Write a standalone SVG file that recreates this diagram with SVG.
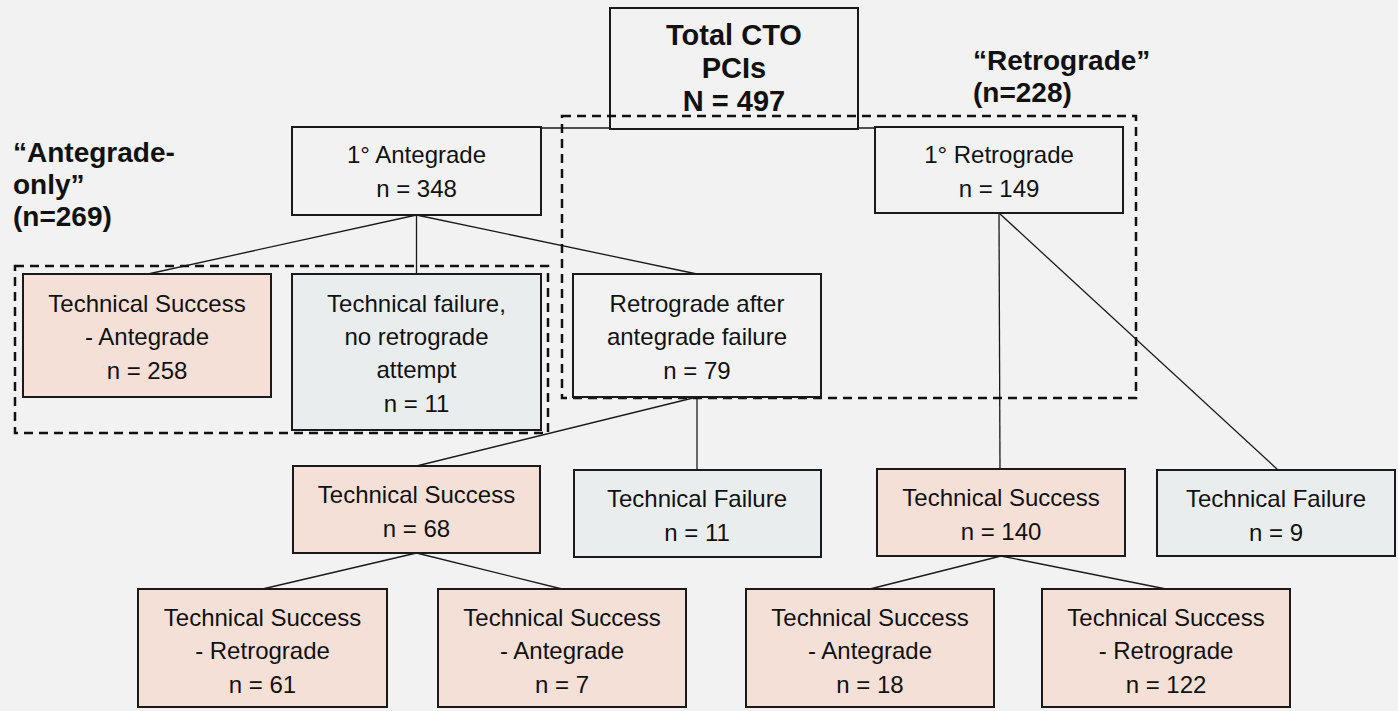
<svg xmlns="http://www.w3.org/2000/svg" width="1398" height="711" viewBox="0 0 1398 711">
<style>
  .bg { fill: #f2f2f2; }
  .succ { fill: #f4e0d6; stroke: #1a1a1a; stroke-width: 2; }
  .fail { fill: #eaedee; stroke: #1a1a1a; stroke-width: 2; }
  .plain { fill: #f2f2f2; stroke: #1a1a1a; stroke-width: 2; }
  .conn line { stroke: #1a1a1a; stroke-width: 1.3; }
  .grp { fill: none; stroke: #111; stroke-width: 2.5; stroke-dasharray: 9 6; }
  text { font-family: "Liberation Sans", Arial, sans-serif; fill: #111; }
  .t { font-size: 24px; text-anchor: middle; }
  .b { font-size: 29px; font-weight: bold; text-anchor: middle; }
  .lbl { font-size: 28px; font-weight: bold; }
</style>
<rect class="bg" x="0" y="0" width="1398" height="711"/>

<g id="connectors" class="conn">
  <line x1="541" y1="128" x2="875" y2="128"/>
  <line x1="416.5" y1="215" x2="148" y2="274"/>
  <line x1="416.5" y1="215" x2="416.5" y2="274"/>
  <line x1="416.5" y1="215" x2="697" y2="274"/>
  <line x1="697" y1="397" x2="416.5" y2="466"/>
  <line x1="697" y1="397" x2="697" y2="470"/>
  <line x1="999" y1="213" x2="1000" y2="469"/>
  <line x1="999" y1="213" x2="1278" y2="470"/>
  <line x1="416.5" y1="553" x2="262.5" y2="589"/>
  <line x1="416.5" y1="553" x2="562" y2="589"/>
  <line x1="1001" y1="556" x2="870" y2="589"/>
  <line x1="1001" y1="556" x2="1166" y2="589"/>
</g>

<g id="total">
  <rect class="plain" x="610" y="8" width="248" height="121"/>
  <text class="b" x="734" y="45">Total CTO</text>
  <text class="b" x="734" y="78">PCIs</text>
  <text class="b" x="734" y="111">N = 497</text>
</g>

<g id="groups">
  <rect id="retro-group" class="grp" x="562" y="116" width="574" height="282"/>
  <rect id="ante-group" class="grp" x="15" y="266" width="533" height="167"/>
</g>

<g id="label-retro">
  <text class="lbl" x="973" y="70">“Retrograde”</text>
  <text class="lbl" x="973" y="102">(n=228)</text>
</g>
<g id="label-ante">
  <text class="lbl" x="13" y="162">“Antegrade-</text>
  <text class="lbl" x="13" y="194">only”</text>
  <text class="lbl" x="13" y="226">(n=269)</text>
</g>

<g id="antegrade">
  <rect class="plain" x="292" y="127" width="249" height="88"/>
  <text class="t" x="416.5" y="163">1° Antegrade</text>
  <text class="t" x="416.5" y="197">n = 348</text>
</g>

<g id="retrograde">
  <rect class="plain" x="875" y="127" width="248" height="86"/>
  <text class="t" x="999" y="163">1° Retrograde</text>
  <text class="t" x="999" y="197">n = 149</text>
</g>

<g id="ts-antegrade">
  <rect class="succ" x="23" y="274" width="248" height="123"/>
  <text class="t" x="147" y="312">Technical Success</text>
  <text class="t" x="147" y="345">- Antegrade</text>
  <text class="t" x="147" y="379">n = 258</text>
</g>

<g id="tf-noretro">
  <rect class="fail" x="292" y="274" width="249" height="156"/>
  <text class="t" x="416.5" y="312">Technical failure,</text>
  <text class="t" x="416.5" y="345">no retrograde</text>
  <text class="t" x="416.5" y="378">attempt</text>
  <text class="t" x="416.5" y="412">n = 11</text>
</g>

<g id="retro-after">
  <rect class="plain" x="573" y="274" width="248" height="123"/>
  <text class="t" x="697" y="312">Retrograde after</text>
  <text class="t" x="697" y="345">antegrade failure</text>
  <text class="t" x="697" y="379">n = 79</text>
</g>

<g id="ts-68">
  <rect class="succ" x="293" y="466" width="247" height="87"/>
  <text class="t" x="416.5" y="503">Technical Success</text>
  <text class="t" x="416.5" y="537">n = 68</text>
</g>

<g id="tf-11">
  <rect class="fail" x="574" y="470" width="247" height="87"/>
  <text class="t" x="697" y="507">Technical Failure</text>
  <text class="t" x="697" y="541">n = 11</text>
</g>

<g id="ts-140">
  <rect class="succ" x="877" y="469" width="248" height="87"/>
  <text class="t" x="1001" y="506">Technical Success</text>
  <text class="t" x="1001" y="540">n = 140</text>
</g>

<g id="tf-9">
  <rect class="fail" x="1157" y="470" width="238" height="86"/>
  <text class="t" x="1276" y="507">Technical Failure</text>
  <text class="t" x="1276" y="541">n = 9</text>
</g>

<g id="ts-retro-61">
  <rect class="succ" x="138" y="589" width="249" height="118"/>
  <text class="t" x="262.5" y="626">Technical Success</text>
  <text class="t" x="262.5" y="659">- Retrograde</text>
  <text class="t" x="262.5" y="693">n = 61</text>
</g>

<g id="ts-ante-7">
  <rect class="succ" x="438" y="589" width="248" height="118"/>
  <text class="t" x="562" y="626">Technical Success</text>
  <text class="t" x="562" y="659">- Antegrade</text>
  <text class="t" x="562" y="693">n = 7</text>
</g>

<g id="ts-ante-18">
  <rect class="succ" x="746" y="589" width="248" height="118"/>
  <text class="t" x="870" y="626">Technical Success</text>
  <text class="t" x="870" y="659">- Antegrade</text>
  <text class="t" x="870" y="693">n = 18</text>
</g>

<g id="ts-retro-122">
  <rect class="succ" x="1042" y="589" width="248" height="118"/>
  <text class="t" x="1166" y="626">Technical Success</text>
  <text class="t" x="1166" y="659">- Retrograde</text>
  <text class="t" x="1166" y="693">n = 122</text>
</g>
</svg>
